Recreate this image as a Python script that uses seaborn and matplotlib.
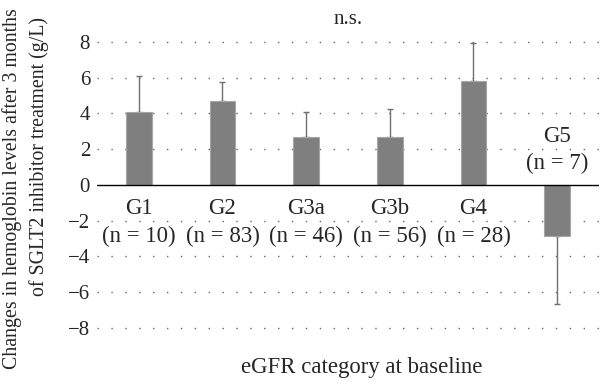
import numpy as np
import pandas as pd
import seaborn as sns
import matplotlib.pyplot as plt

# data
groups = ['G1', 'G2', 'G3a', 'G3b', 'G4', 'G5']
n_labels = ['(n = 10)', '(n = 83)', '(n = 46)', '(n = 56)', '(n = 28)', '(n = 7)']
means = [4.1, 4.7, 2.65, 2.7, 5.8, -2.85]
sds = [2.0, 1.05, 1.4, 1.55, 2.15, 3.8]

df = pd.DataFrame({'group': groups, 'change': means})

sns.set_style('white')
plt.rcParams['font.family'] = ['Liberation Serif', 'DejaVu Serif']
plt.rcParams['axes.unicode_minus'] = True

fig = plt.figure(figsize=(6, 3.84), dpi=100)
ax = fig.add_axes([97 / 600, 0.099, 502 / 600, 0.839])

sns.barplot(data=df, x='group', y='change', color='#7f7f7f', width=0.31,
            edgecolor='#a6a6a6', linewidth=0.8, saturation=1, ax=ax, zorder=3)

# one-sided error bars
x = np.arange(len(groups))
lo = [0 if m >= 0 else s for m, s in zip(means, sds)]
hi = [s if m >= 0 else 0 for m, s in zip(means, sds)]
ax.errorbar(x, means, yerr=[lo, hi], fmt='none', ecolor='#707070',
            elinewidth=1, capsize=2.5, capthick=1, zorder=2)

ax.set_xlim(-0.5, 5.5)
ax.set_ylim(-9, 9)
ax.set_yticks([-8, -6, -4, -2, 0, 2, 4, 6, 8])
ax.set_yticklabels(['\u22128', '\u22126', '\u22124', '\u22122', '0', '2', '4', '6', '8'], fontsize=15)
ax.set_xticks([])
ax.tick_params(axis='y', length=0, pad=5)
for sp in ax.spines.values():
    sp.set_visible(False)

for yv in [-8, -6, -4, -2, 2, 4, 6, 8]:
    ax.axhline(yv, color='#666666', lw=1, ls=(0, (1, 9)), zorder=0)
ax.axhline(0, color='black', lw=1, zorder=4)

for i, (g, n) in enumerate(zip(groups, n_labels)):
    if means[i] >= 0:
        ax.text(i, -1.3, g, ha='center', va='center', fontsize=16.5)
        ax.text(i, -2.9, n, ha='center', va='center', fontsize=16.5)
    else:
        ax.text(i, 2.7, g, ha='center', va='center', fontsize=16.5)
        ax.text(i, 1.2, n, ha='center', va='center', fontsize=16.5)

ax.set_xlabel('')
ax.set_ylabel('')
fig.text(348 / 600, 0.948, 'n.s.', ha='center', va='center', fontsize=15)
fig.text(362 / 600, 0.042, 'eGFR category at baseline', ha='center', va='center', fontsize=16.4)
fig.text(12 / 600, 1 - 189 / 384, 'Changes in hemoglobin levels after 3 months',
         ha='center', va='center', rotation=90, fontsize=14.3)
fig.text(39 / 600, 1 - 156 / 384, 'of SGLT2 inhibitor treatment (g/L)',
         ha='center', va='center', rotation=90, fontsize=14.3)

fig.savefig('out.png', dpi=100)
